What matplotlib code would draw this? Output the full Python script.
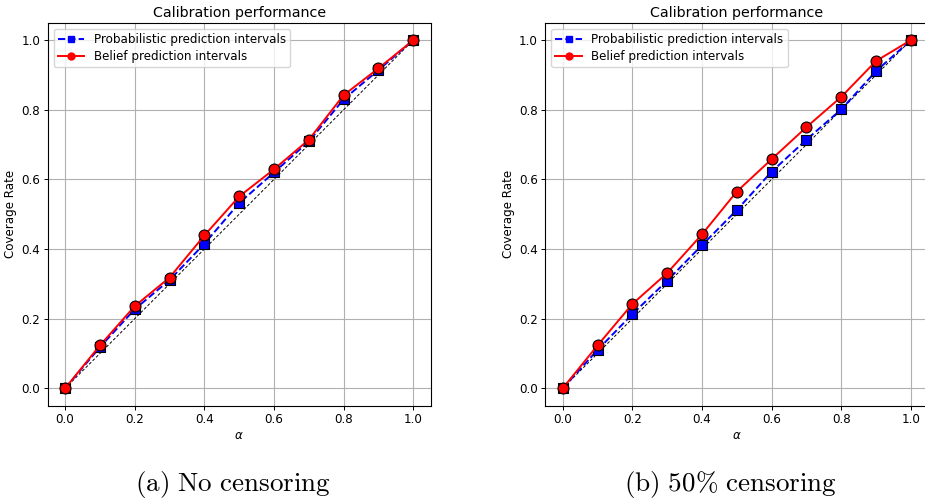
import numpy as np
import matplotlib
matplotlib.use("Agg")
from matplotlib import pyplot as plt

plt.rcParams['mathtext.fontset'] = 'dejavusans'

# nominal levels
alphas = [0.0, 0.1, 0.2, 0.3, 0.4, 0.5, 0.6, 0.7, 0.8, 0.9, 1.0]

# coverage, no censoring
prob_nocens = [0.0, 0.118, 0.227, 0.311, 0.415, 0.532, 0.620, 0.709, 0.830, 0.914, 1.0]
belief_nocens = [0.0, 0.123, 0.236, 0.318, 0.439, 0.551, 0.629, 0.714, 0.842, 0.919, 1.0]

# coverage, 50% censoring
prob_cens = [0.0, 0.110, 0.213, 0.309, 0.411, 0.512, 0.622, 0.714, 0.801, 0.911, 1.0]
belief_cens = [0.0, 0.123, 0.242, 0.331, 0.442, 0.565, 0.658, 0.750, 0.837, 0.940, 1.0]

captions = ['(a) No censoring', r'(b) 50% censoring']

W, H = 925, 500
fig = plt.figure(figsize=(W / 100, H / 100), dpi=100)

fs = 8.6  # small font used inside the panels


def panel(left_px, prob, belief):
    ax = fig.add_axes([left_px / W, (H - 405.7) / H, 383 / W, 383 / H])
    ax.plot([0, 1], [0, 1], 'k--', lw=0.7, dashes=(3, 2), zorder=1)
    ax.plot(alphas, prob, 'b--s', lw=1.4, ms=5, label='Probabilistic prediction intervals', zorder=2)
    ax.scatter(alphas, prob, s=58, marker='s', c='blue', edgecolors='k', linewidths=0.8, zorder=3)
    ax.plot(alphas, belief, 'r-o', lw=1.4, ms=5, label='Belief prediction intervals', zorder=4)
    ax.scatter(alphas, belief, s=62, marker='o', c='red', edgecolors='k', linewidths=0.8, zorder=5)
    ax.set_xlim(-0.05, 1.05)
    ax.set_ylim(-0.05, 1.05)
    ax.set_xticks(np.arange(0, 1.01, 0.2))
    ax.set_yticks(np.arange(0, 1.01, 0.2))
    ax.grid(True, color='#b0b0b0', lw=0.8)
    ax.set_axisbelow(True)
    ax.tick_params(labelsize=fs, length=3, width=0.7, pad=2.5)
    ax.set_xlabel(r'$\alpha$', fontsize=fs, labelpad=2)
    ax.set_ylabel('Coverage Rate', fontsize=fs, labelpad=3)
    ax.set_title('Calibration performance', fontsize=10.3, pad=4)
    for s in ax.spines.values():
        s.set_linewidth(0.8)
    ax.legend(loc='upper left', fontsize=fs, handlelength=2.2, borderpad=0.35,
              labelspacing=0.35, framealpha=0.8, edgecolor='#cccccc')
    return ax


panel(47.7, prob_nocens, belief_nocens)
panel(545.3, prob_cens, belief_cens)

# subfigure captions in a Computer Modern look
for cx, cap in zip([233, 731], captions):
    fig.text(cx / W, 1 - 485 / H, r'$\mathrm{' + cap.replace(' ', r'\ ').replace('%', r'\%') + '}$',
             ha='center', va='center', fontsize=19.5, math_fontfamily='cm')

fig.savefig('out.png', dpi=100)
